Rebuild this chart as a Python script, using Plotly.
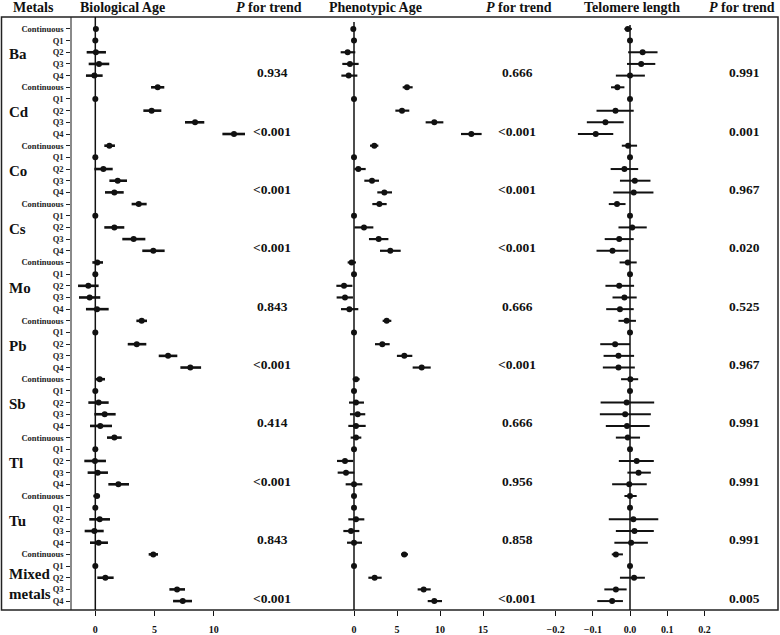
import plotly.graph_objects as go

W, H = 780, 635

metals = ["Ba", "Cd", "Co", "Cs", "Mo", "Pb", "Sb", "Tl", "Tu", "Mixed<br>metals"]
levels = ["Continuous", "Q1", "Q2", "Q3", "Q4"]

# Biological Age: estimate, lower, upper (per metal: Continuous, Q1..Q4)
bio_est = [0.05, 0, 0.05, 0.31, -0.08,
           5.27, 0, 4.76, 8.43, 11.72,
           1.19, 0, 0.68, 1.89, 1.61,
           3.67, 0, 1.61, 3.24, 4.90,
           0.17, 0, -0.59, -0.48, 0.14,
           3.92, 0, 3.50, 6.15, 8.03,
           0.37, 0, 0.28, 0.79, 0.42,
           1.61, 0, -0.03, 0.20, 1.95,
           0.14, 0, 0.37, -0.08, 0.28,
           4.90, 0, 0.85, 6.91, 7.39]
bio_lo = [-0.15, None, -0.73, -0.56, -0.79,
          4.71, None, 4.06, 7.58, 10.74,
          0.76, None, -0.08, 1.19, 0.82,
          3.07, None, 0.76, 2.28, 3.97,
          -0.25, None, -1.46, -1.38, -0.79,
          3.47, None, 2.74, 5.36, 7.19,
          -0.03, None, -0.59, -0.08, -0.45,
          0.99, None, -0.93, -0.65, 1.10,
          -0.17, None, -0.51, -0.90, -0.45,
          4.51, None, 0.17, 6.26, 6.57]
bio_hi = [0.22, None, 0.90, 1.18, 0.62,
          5.83, None, 5.58, 9.21, 12.65,
          1.66, None, 1.47, 2.68, 2.40,
          4.34, None, 2.45, 4.23, 5.86,
          0.65, None, 0.28, 0.42, 1.13,
          4.37, None, 4.31, 6.93, 8.94,
          0.82, None, 1.13, 1.72, 1.41,
          2.23, None, 0.90, 1.07, 2.85,
          0.40, None, 1.24, 0.71, 1.07,
          5.30, None, 1.55, 7.58, 8.17]

# Phenotypic Age
phe_est = [-0.08, 0, -0.74, -0.47, -0.62,
           6.16, 0, 5.58, 9.34, 13.64,
           2.36, 0, 0.50, 2.09, 3.53,
           2.95, 0, 1.16, 2.87, 4.22,
           -0.27, 0, -1.16, -1.05, -0.54,
           3.80, 0, 3.29, 5.85, 7.87,
           0.23, 0, 0.23, 0.43, 0.23,
           0.23, 0, -1.05, -0.93, 0.00,
           0.00, 0, 0.23, -0.35, 0.00,
           5.85, 0, 2.40, 8.10, 9.34]
phe_lo = [-0.25, None, -1.55, -1.36, -1.47,
          5.66, None, 4.81, 8.33, 12.44,
          1.86, None, 0.04, 1.20, 2.71,
          2.13, None, 0.04, 1.74, 3.02,
          -0.74, None, -2.05, -2.02, -1.51,
          3.33, None, 2.44, 4.99, 6.82,
          -0.16, None, -0.58, -0.47, -0.66,
          -0.39, None, -1.98, -1.90, -0.97,
          -0.15, None, -0.66, -1.24, -0.81,
          5.47, None, 1.67, 7.40, 8.57]
phe_hi = [0.10, None, 0.15, 0.54, 0.39,
          6.82, None, 6.43, 10.39, 14.84,
          2.83, None, 1.36, 2.91, 4.42,
          3.80, None, 2.25, 4.00, 5.43,
          0.23, None, -0.19, -0.12, 0.50,
          4.34, None, 4.15, 6.78, 8.92,
          0.66, None, 1.16, 1.31, 1.36,
          0.85, None, -0.08, 0.04, 0.97,
          0.15, None, 1.20, 0.62, 0.93,
          6.28, None, 3.22, 8.92, 10.23]

# Telomere length
tel_est = [-0.006, 0, 0.034, 0.030, 0.000,
           -0.034, 0, -0.039, -0.066, -0.092,
           -0.005, 0, -0.015, 0.013, 0.010,
           -0.035, 0, 0.006, -0.029, -0.047,
           -0.006, 0, -0.029, -0.015, -0.027,
           -0.009, 0, -0.040, -0.031, -0.031,
           0.001, 0, -0.009, -0.013, -0.008,
           -0.006, 0, 0.018, 0.023, -0.002,
           0.000, 0, 0.009, 0.012, 0.003,
           -0.038, 0, 0.011, -0.038, -0.048]
tel_lo = [-0.015, None, -0.005, -0.008, -0.038,
          -0.051, None, -0.090, -0.116, -0.140,
          -0.022, None, -0.052, -0.027, -0.045,
          -0.057, None, -0.031, -0.068, -0.090,
          -0.028, None, -0.066, -0.047, -0.064,
          -0.031, None, -0.080, -0.071, -0.073,
          -0.024, None, -0.079, -0.081, -0.065,
          -0.038, None, -0.030, -0.007, -0.048,
          -0.015, None, -0.057, -0.038, -0.042,
          -0.049, None, -0.027, -0.069, -0.088]
tel_hi = [0.005, None, 0.074, 0.068, 0.040,
          -0.015, None, 0.010, -0.017, -0.045,
          0.019, None, 0.022, 0.055, 0.063,
          -0.012, None, 0.045, 0.010, -0.004,
          0.018, None, 0.011, 0.018, 0.010,
          0.016, None, 0.000, 0.011, 0.013,
          0.022, None, 0.065, 0.056, 0.053,
          0.027, None, 0.064, 0.056, 0.045,
          0.018, None, 0.076, 0.064, 0.048,
          -0.019, None, 0.040, -0.009, -0.019]

p_bio = ["0.934", "<0.001", "<0.001", "<0.001", "0.843", "<0.001", "0.414", "<0.001", "0.843", "<0.001"]
p_phe = ["0.666", "<0.001", "<0.001", "<0.001", "0.666", "<0.001", "0.666", "0.956", "0.858", "<0.001"]
p_tel = ["0.991", "0.001", "0.967", "0.020", "0.525", "0.967", "0.991", "0.991", "0.991", "0.005"]

FONT = "Liberation Serif, Times New Roman, serif"
rows = list(range(len(metals) * len(levels)))
row_labels = levels * len(metals)


def px_x(p):
    return p / W


def px_y(p):
    return 1 - p / H


def segments(lo, hi):
    xs, ys = [], []
    for r, a, b in zip(rows, lo, hi):
        if a is None:
            continue
        xs += [a, b, None]
        ys += [r, r, None]
    return xs, ys


fig = go.Figure()
panels = [("x", "y", bio_est, bio_lo, bio_hi, 2.6),
          ("x2", "y2", phe_est, phe_lo, phe_hi, 2.2),
          ("x3", "y3", tel_est, tel_lo, tel_hi, 2.0)]
for xa, ya, est, lo, hi, lw in panels:
    sx, sy = segments(lo, hi)
    fig.add_trace(go.Scatter(x=sx, y=sy, mode="lines", xaxis=xa, yaxis=ya,
                             line=dict(color="#111", width=lw), showlegend=False,
                             hoverinfo="skip"))
    fig.add_trace(go.Scatter(x=est, y=rows, mode="markers", xaxis=xa, yaxis=ya,
                             marker=dict(color="#111", size=6), showlegend=False))

yrange = [49.77, -1.0245]
ydom = [px_y(612), px_y(17)]
tickfont = dict(family=FONT, size=10, color="#111", weight="bold")

xaxis_common = dict(showgrid=False, zeroline=False, showline=False, ticks="outside",
                    ticklen=5, tickcolor="#111", tickwidth=1.2, tickfont=tickfont,
                    ticklabelstandoff=5)

fig.update_layout(
    width=W, height=H,
    margin=dict(l=0, r=0, t=0, b=0),
    plot_bgcolor="white", paper_bgcolor="white",
    xaxis=dict(domain=[px_x(72), px_x(247)], range=[-1.97, 12.82],
               tickvals=[0, 5, 10], anchor="y", **xaxis_common),
    xaxis2=dict(domain=[px_x(300), px_x(500)], range=[-6.279, 16.977],
                tickvals=[0, 5, 10, 15], anchor="y2", **xaxis_common),
    xaxis3=dict(domain=[px_x(540), px_x(720)], range=[-0.2419, 0.2419],
                tickvals=[-0.2, -0.1, 0, 0.1, 0.2], tickformat=".1f",
                anchor="y3", **xaxis_common),
    yaxis=dict(domain=ydom, range=yrange, anchor="x", tickvals=rows,
               ticktext=row_labels, showgrid=False, zeroline=False,
               showline=True, linecolor="#8a8a8a", linewidth=1.5,
               ticks="outside", ticklen=4, tickcolor="#222", tickwidth=1,
               tickfont=dict(family=FONT, size=8.5, color="#222", weight="bold"),
               ticklabelstandoff=1),
    yaxis2=dict(domain=ydom, range=yrange, anchor="x2", visible=False),
    yaxis3=dict(domain=ydom, range=yrange, anchor="x3", visible=False),
)

# outer frame
fig.add_shape(type="rect", xref="paper", yref="paper",
              x0=px_x(1.5), x1=px_x(778), y0=px_y(612), y1=px_y(17),
              line=dict(color="#222", width=1.5), layer="above")

# reference lines at zero
for xa, top in [("x", 17), ("x2", 22), ("x3", 25)]:
    fig.add_shape(type="line", xref=xa, yref="paper", x0=0, x1=0,
                  y0=px_y(612), y1=px_y(top), line=dict(color="#111", width=1.5))

# headers
headers = [("Metals", 33), ("Biological Age", 122), ("<i>P</i> for trend", 269),
           ("Phenotypic Age", 375), ("<i>P</i> for trend", 519),
           ("Telomere length", 632), ("<i>P</i> for trend", 742)]
for txt, cx in headers:
    fig.add_annotation(text=txt, x=px_x(cx), y=px_y(8), xref="paper", yref="paper",
                       showarrow=False, xanchor="center", yanchor="middle",
                       font=dict(family=FONT, size=14, color="#111", weight="bold"))

# metal names and P for trend
for i, name in enumerate(metals):
    start = i * len(levels)
    ym = start + 2 + (0.5 if "<br>" in name else 0.15)
    fig.add_annotation(text=name, x=px_x(7), y=ym, xref="paper", yref="y",
                       showarrow=False, xanchor="left", yanchor="middle", align="left",
                       font=dict(family=FONT, size=15, color="#111", weight="bold"))
    for plist, cx in [(p_bio, 272), (p_phe, 517), (p_tel, 744)]:
        fig.add_annotation(text=plist[i].replace("<", "&lt;"), x=px_x(cx), y=start + 4,
                           xref="paper", yref="y", yshift=3, showarrow=False,
                           xanchor="center", yanchor="middle",
                           font=dict(family=FONT, size=13.5, color="#111", weight="bold"))

fig.write_html("out.html", config={"displayModeBar": False},
               post_script="document.body.style.margin='0';")
